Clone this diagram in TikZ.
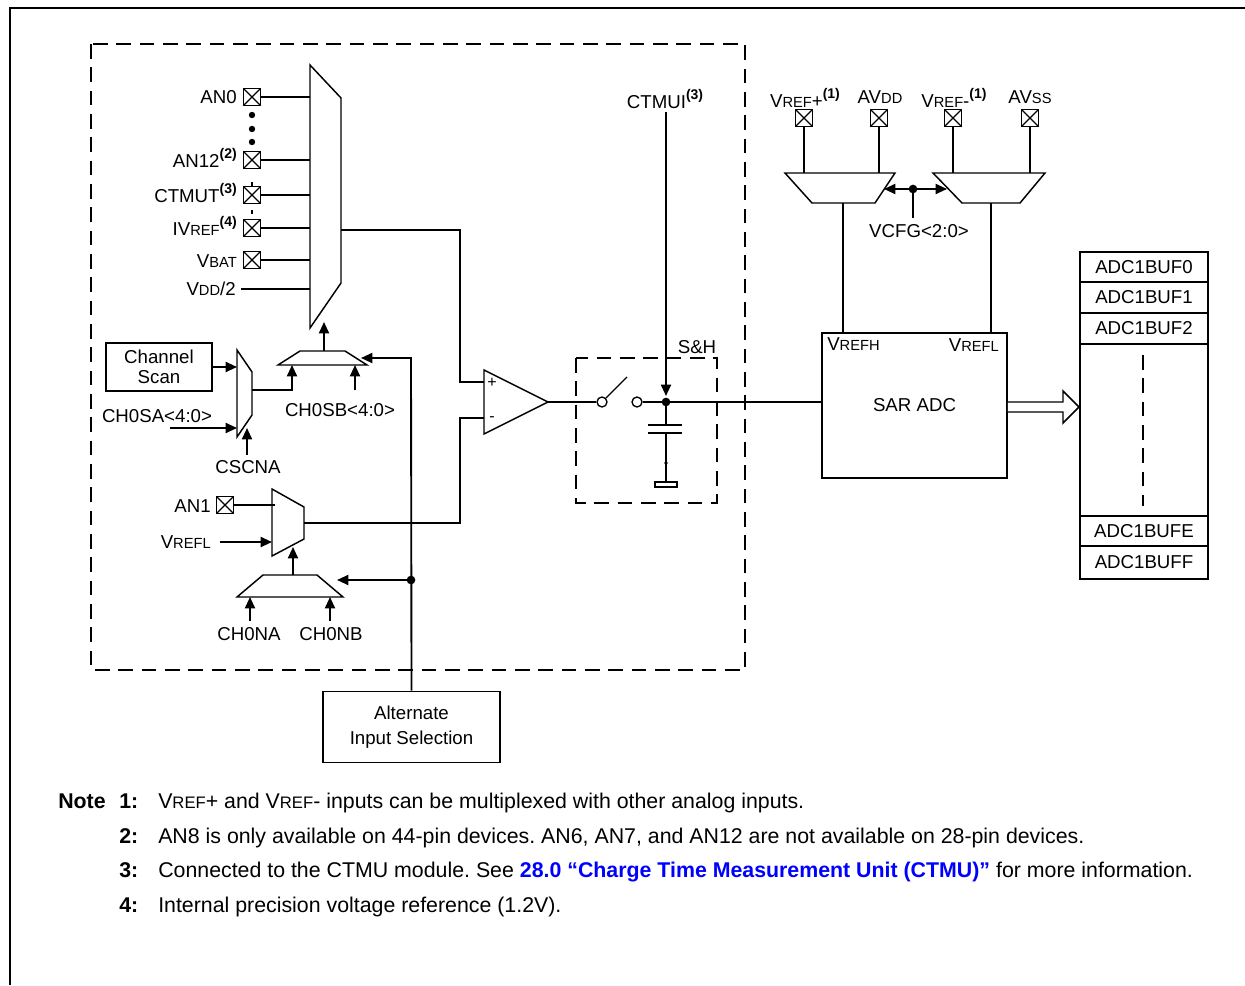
\documentclass[tikz,border=0pt]{standalone}
\usepackage{fontspec}
\setmainfont{Liberation Sans}
\usetikzlibrary{arrows.meta}
\definecolor{linkblue}{RGB}{0,0,255}
\frenchspacing
\newcommand\smc[1]{{\fontsize{11}{12}\selectfont #1}}
\newcommand\supn[1]{\raisebox{0.9ex}{\fontsize{10.5}{12}\selectfont\bfseries(#1)}}
\begin{document}
\begin{tikzpicture}[x=0.75pt,y=-0.75pt,
  font=\fontsize{14}{16}\selectfont,
  wire/.style={line width=1.4pt},
  muxs/.style={line width=1.1pt, fill=white},
  arr/.style={line width=1.4pt,-{Triangle[length=8.5pt,width=7.5pt]}},
  dashbox/.style={line width=1.5pt, dash pattern=on 11pt off 6.5pt},
  pinbox/.style={draw,line width=1.1pt,minimum size=12.5pt,inner sep=0pt,
    path picture={\draw[line width=0.9pt] (path picture bounding box.north west)--(path picture bounding box.south east) (path picture bounding box.north east)--(path picture bounding box.south west);}},
  lbl/.style={inner sep=0pt},
  boxn/.style={draw,line width=1.3pt,inner sep=0pt,align=center},
  dotn/.style={circle,fill,inner sep=0pt,minimum size=6.5pt},
  swc/.style={circle,draw,line width=1pt,inner sep=0pt,minimum size=7.5pt},
  notef/.style={lbl,anchor=base west,font=\fontsize{16}{18}\selectfont}
]
\useasboundingbox (0,0) rectangle (1245,985);
% outer frame
\draw[line width=1.5pt] (1245,8) -- (10,8) -- (10,985);
% dashed module boundary
\draw[dashbox] (91,44) rectangle (745,670);

% ---------- big input mux
\coordinate (bmA) at (310,65); \coordinate (bmB) at (341,98);
\coordinate (bmC) at (341,283); \coordinate (bmD) at (310,328);
\coordinate (bmout) at (341,230);
\draw[muxs] (bmA)--(bmB)--(bmC)--(bmD)--cycle;

\node[pinbox] (pAN0) at (252,97) {};
\node[lbl,anchor=east] (tAN0) at (237,97) {AN0};
\draw[wire] (pAN0.east) -- (pAN0.east -| bmA);
\fill (252,115) circle (2.4pt) (252,129) circle (2.4pt) (252,142) circle (2.4pt);
\node[pinbox] (pAN12) at (252,160) {};
\node[lbl,anchor=east] (tAN12) at (237,158) {AN12\supn{2}};
\draw[wire] (pAN12.east) -- (pAN12.east -| bmA);
\node[pinbox] (pCTMUT) at (252,195) {};
\node[lbl,anchor=east] (tCTMUT) at (237,193) {CTMUT\supn{3}};
\draw[wire] (pCTMUT.east) -- (pCTMUT.east -| bmA);
\draw[line width=1pt] (252,182) -- (252,186) (252,210) -- (252,214);
\node[pinbox] (pIVREF) at (252,228) {};
\node[lbl,anchor=east] (tIVREF) at (237,226) {IV\smc{REF}\supn{4}};
\draw[wire] (pIVREF.east) -- (pIVREF.east -| bmA);
\node[pinbox] (pVBAT) at (252,260) {};
\node[lbl,anchor=east] (tVBAT) at (237,261) {V\smc{BAT}};
\draw[wire] (pVBAT.east) -- (pVBAT.east -| bmA);
\coordinate (vddL) at (241,289);
\node[lbl,anchor=east] (tVDD) at (236,289) {V\smc{DD}/2};
\draw[wire] (vddL) -- (vddL -| bmA);

% ---------- channel scan mux
\node[boxn,minimum width=80pt,minimum height=36pt,font=\fontsize{14}{15}\selectfont] (chscan) at (159,367) {Channel\\Scan};
\coordinate (smA) at (237,350); \coordinate (smB) at (252,372);
\coordinate (smC) at (252,415); \coordinate (smD) at (237,437);
\coordinate (smout) at (252,390);
\draw[muxs] (smA)--(smB)--(smC)--(smD)--cycle;
\draw[arr] (chscan.east) -- (chscan.east -| smA);
\node[lbl] (tCH0SA) at (157,416) {CH0SA<4:0>};
\coordinate (ch0saS) at (170,428);
\draw[arr] (ch0saS) -- (ch0saS -| smA);
\coordinate (cscS) at (247,455);
\draw[arr] (cscS) -- (247,428);
\node[lbl] (tCSCNA) at (248,467) {CSCNA};

% ---------- CH0SB selector
\coordinate (hmA) at (278,365); \coordinate (hmB) at (300,351);
\coordinate (hmC) at (345,351); \coordinate (hmD) at (367,365);
\draw[muxs] (hmA)--(hmB)--(hmC)--(hmD)--cycle;
\draw[arr] (324,351) -- (324,322);
\draw[arr] (smout) -| (292,365);
\draw[arr] (355,390) -- (355,365);
\node[lbl] (tCH0SB) at (340,410) {CH0SB<4:0>};

% ---------- alternate input selection
\node[boxn,minimum width=132.75pt,minimum height=53.25pt,font=\fontsize{14}{19}\selectfont] (alt) at (411.5,727) {Alternate\\Input Selection};
\node[dotn] (jn) at (411,580) {};
\draw[arr] (alt.north) -- (411,358) -- (361,358);
\draw[arr] (jn.center) -- (337,580);

% ---------- AN1 / VREFL mux
\coordinate (lmA) at (272,489); \coordinate (lmB) at (304,507);
\coordinate (lmC) at (304,539); \coordinate (lmD) at (272,556);
\coordinate (lmout) at (304,523);
\draw[muxs] (lmA)--(lmB)--(lmC)--(lmD)--cycle;
\node[pinbox] (pAN1) at (225,505) {};
\node[lbl,anchor=east] (tAN1) at (211,506) {AN1};
\draw[wire] (pAN1.east) -- (275,505);
\coordinate (vreflS) at (220,542);
\draw[arr] (vreflS) -- (272,542);
\node[lbl,anchor=east] (tVREFL) at (211,542) {V\smc{REFL}};
\coordinate (ltA) at (237,597); \coordinate (ltB) at (263,575);
\coordinate (ltC) at (317,575); \coordinate (ltD) at (343,597);
\draw[muxs] (ltA)--(ltB)--(ltC)--(ltD)--cycle;
\draw[arr] (293,575) -- (293,547);
\draw[arr] (250,621) -- (250,597);
\draw[arr] (330,621) -- (330,597);
\node[lbl] (tCH0NA) at (249,634) {CH0NA};
\node[lbl] (tCH0NB) at (331,634) {CH0NB};

% ---------- op-amp
\coordinate (oaT) at (484,370); \coordinate (oaB) at (484,434); \coordinate (oaO) at (548,402);
\coordinate (oaP) at (484,382); \coordinate (oaM) at (484,418);
\draw[muxs] (oaT)--(oaO)--(oaB)--cycle;
\node[lbl,font=\fontsize{12}{12}\selectfont] (tplus) at (492,383) {+};
\node[lbl,font=\fontsize{12}{12}\selectfont] (tminus) at (492,419) {-};
\draw[wire] (bmout) -| (460,382) -- (oaP);
\draw[wire] (lmout) -| (460,418) -- (oaM);

% ---------- sample & hold
\draw[dashbox] (576,358) rectangle (717,503);
\node[lbl] (tSH) at (697,347) {S\&H};
\node[swc] (sw1) at (602,402) {};
\node[swc] (sw2) at (637,402) {};
\draw[wire] (oaO) -- (sw1.west);
\draw[line width=1pt] (sw1.north east) -- (627,377);
\node[dotn] (shn) at (666,402) {};
\draw[wire] (sw2.east) -- (shn.center);
\node[lbl] (tCTMUI) at (665,99) {CTMUI\supn{3}};
\draw[arr] (666,112) -- (666,396);
\draw[wire] (shn.center) -- (666,425);
\draw[line width=1.6pt] (648,425) -- (682,425) (648,433) -- (682,433);
\draw[wire] (666,433) -- (666,482);
\fill (666,463) circle (1.4pt);
\draw[line width=1.1pt] (655,482) rectangle (677,487);

% ---------- SAR ADC
\node[boxn,minimum width=138.75pt,minimum height=108.75pt] (sar) at (914.5,405.5) {SAR ADC};
\draw[wire] (shn.center) -- (shn.center -| sar.west);
\node[lbl,anchor=west] (tVREFH) at (827,344) {V\smc{REFH}};
\node[lbl,anchor=east] (tVREFLs) at (999,345) {V\smc{REFL}};

% ---------- reference muxes
\node[pinbox] (pVRP) at (804,118) {};
\node[pinbox] (pAVDD) at (879,118) {};
\node[pinbox] (pVRM) at (953,118) {};
\node[pinbox] (pAVSS) at (1030,118) {};
\node[lbl] (tVRP) at (805,98) {V\smc{REF}+\supn{1}};
\node[lbl] (tAVDD) at (880,97) {AV\smc{DD}};
\node[lbl] (tVRM) at (954,98) {V\smc{REF}-\supn{1}};
\node[lbl] (tAVSS) at (1030,97) {AV\smc{SS}};
\coordinate (rlA) at (785,173); \coordinate (rlB) at (895,173);
\coordinate (rlC) at (875,203); \coordinate (rlD) at (812,203);
\coordinate (rrA) at (933,173); \coordinate (rrB) at (1045,173);
\coordinate (rrC) at (1020,203); \coordinate (rrD) at (962,203);
\coordinate (rlout) at (843,203); \coordinate (rrout) at (991,203);
\draw[muxs] (rlA)--(rlB)--(rlC)--(rlD)--cycle;
\draw[muxs] (rrA)--(rrB)--(rrC)--(rrD)--cycle;
\draw[wire] (pVRP.south) -- (pVRP.south |- rlA);
\draw[wire] (pAVDD.south) -- (pAVDD.south |- rlA);
\draw[wire] (pVRM.south) -- (pVRM.south |- rrA);
\draw[wire] (pAVSS.south) -- (pAVSS.south |- rrA);
\node[dotn] (vcfg) at (913,189) {};
\draw[arr] (vcfg.center) -- (884,189);
\draw[arr] (vcfg.center) -- (947,189);
\draw[wire] (vcfg.center) -- (913,218);
\node[lbl] (tVCFG) at (919,231) {VCFG<2:0>};
\draw[wire] (rlout) -- (rlout |- sar.north);
\draw[wire] (rrout) -- (rrout |- sar.north);

% ---------- result buffer
\draw[line width=1.1pt,fill=white] (sar.east |- 0,402) -- (1063,402) -- (1063,391) -- (1079,407) -- (1063,423) -- (1063,412) -- (sar.east |- 0,412);
\tikzset{cell/.style={draw,line width=1.3pt,minimum width=96pt,inner sep=0pt}}
\node[cell,minimum height=22.5pt] (b0) at (1144,267) {ADC1BUF0};
\node[cell,minimum height=23.25pt] (b1) at (1144,297.5) {ADC1BUF1};
\node[cell,minimum height=23.25pt] (b2) at (1144,328.5) {ADC1BUF2};
\node[cell,minimum height=129pt] (bmid) at (1144,430) {};
\node[cell,minimum height=22.5pt] (bE) at (1144,531) {ADC1BUFE};
\node[cell,minimum height=24.75pt] (bF) at (1144,562.5) {ADC1BUFF};
\draw[line width=1.3pt,dash pattern=on 11pt off 6.5pt] (1143,355) -- (1143,506);

% ---------- notes
\node[notef,font=\fontsize{16}{18}\selectfont\bfseries] (note) at (58,808) {Note};
\node[notef,font=\fontsize{16}{18}\selectfont\bfseries] (n1) at (119,808) {1:};
\node[notef,font=\fontsize{16}{18}\selectfont\bfseries] (n2) at (119,843) {2:};
\node[notef,font=\fontsize{16}{18}\selectfont\bfseries] (n3) at (119,877) {3:};
\node[notef,font=\fontsize{16}{18}\selectfont\bfseries] (n4) at (119,912) {4:};
\node[notef] (t1) at (158,808) {V{\fontsize{12.5}{14}\selectfont REF}+ and V{\fontsize{12.5}{14}\selectfont REF}- inputs can be multiplexed with other analog inputs.};
\node[notef] (t2) at (158,843) {AN8 is only available on 44-pin devices. AN6, AN7, and AN12 are not available on 28-pin devices.};
\node[notef] (t3) at (158,877) {Connected to the CTMU module. See \textcolor{linkblue}{\bfseries 28.0 “Charge Time Measurement Unit (CTMU)”} for more information.};
\node[notef] (t4) at (158,912) {Internal precision voltage reference (1.2V).};
\end{tikzpicture}
\end{document}
